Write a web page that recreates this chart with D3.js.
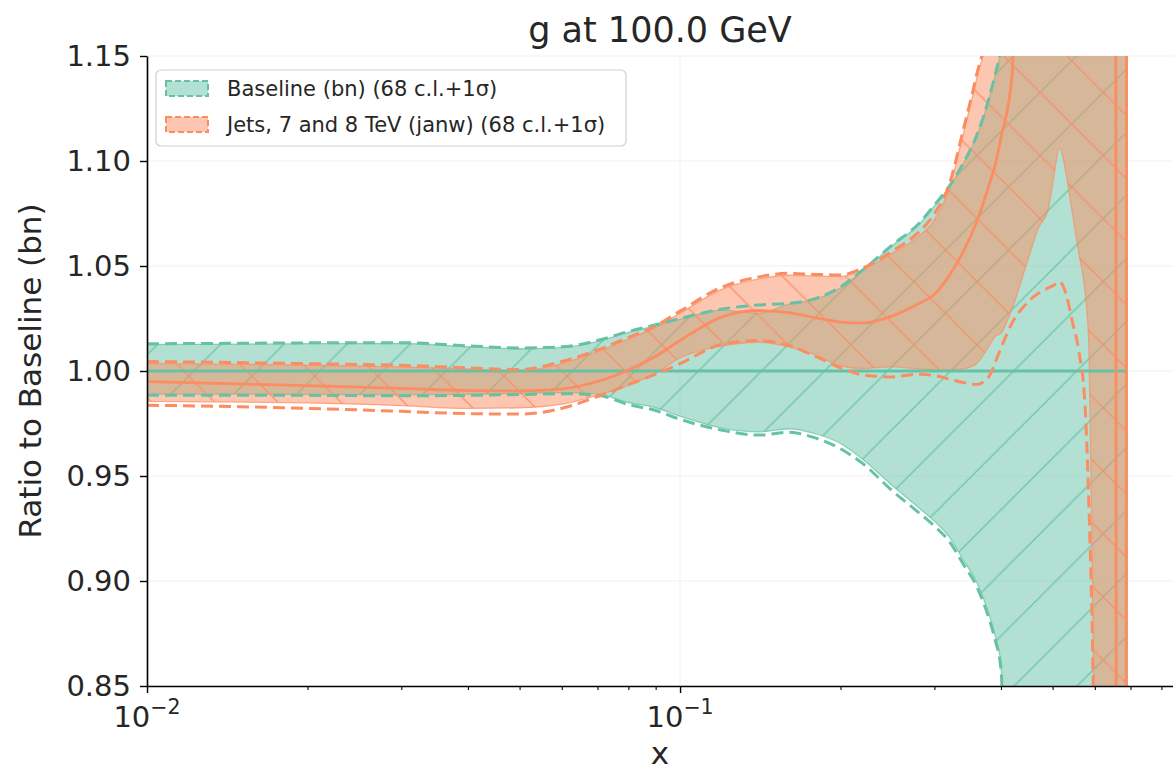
<!DOCTYPE html>
<html><head><meta charset="utf-8">
<script src="https://cdn.jsdelivr.net/npm/d3@7"></script>
<style>
body{margin:0;background:#fff}
svg{display:block;font-family:"DejaVu Sans",sans-serif}
</style>
</head><body>
<svg id="c" width="1173" height="772"></svg>
<script>
// ---------------- data ----------------
const xs = [0.01,0.015,0.02,0.03,0.04,0.05,0.06,0.07,0.08,0.09,0.1,0.12,0.14,0.16,0.18,0.2,0.22,0.25,0.28,0.3,
            0.32,0.34,0.36,0.38,0.39,0.4,0.42,0.45,0.47,0.49,0.5,0.515,0.53,0.545,0.56,0.575,0.585,0.595,0.62,0.655,0.66,0.685,0.69];

const greenCentral = xs.map(() => 1.0);
const greenUp1s = [1.0130,1.0132,1.0134,1.0135,1.0120,1.0110,1.0115,1.0145,1.0188,1.0220,1.0250,1.0295,1.0314,1.0322,1.0346,1.0400,1.0480,1.0600,1.0700,1.0790,
                   1.0880,1.0990,1.1120,1.1300,1.1410,1.1530,1.2000,1.6,1.6,1.6,1.6,1.6,1.6,1.6,1.6,1.6,1.6,1.6,1.6,1.6,1.6,1.6,1.6];
const greenUp68 = [1.0126,1.0128,1.0130,1.0131,1.0116,1.0106,1.0111,1.0141,1.0184,1.0216,1.0246,1.0290,1.0275,1.0318,1.0342,1.0396,1.0476,1.0596,1.0696,1.0786,
                   1.0876,1.0986,1.1116,1.1296,1.1406,1.1526,1.2000,1.6,1.6,1.6,1.6,1.6,1.6,1.6,1.6,1.6,1.6,1.6,1.6,1.6,1.6,1.6,1.6];
const greenLo1s = [0.9885,0.9885,0.9884,0.9882,0.9884,0.9888,0.9892,0.9885,0.9840,0.9812,0.9770,0.9718,0.9695,0.9708,0.9680,0.9630,0.9560,0.9430,0.9327,0.9262,
                   0.9188,0.9080,0.8975,0.8820,0.8720,0.8580,0.6000,0.4,0.4,0.4,0.4,0.4,0.4,0.4,0.4,0.4,0.4,0.4,0.4,0.4,0.4,0.4,0.4];
const greenLo68 = [0.9890,0.9890,0.9889,0.9887,0.9889,0.9893,0.9897,0.9890,0.9850,0.9825,0.9785,0.9728,0.9710,0.9725,0.9700,0.9655,0.9580,0.9455,0.9350,0.9285,
                   0.9210,0.9100,0.8995,0.8840,0.8740,0.8600,0.6000,0.4,0.4,0.4,0.4,0.4,0.4,0.4,0.4,0.4,0.4,0.4,0.4,0.4,0.4,0.4,0.4];

const orangeCentral = [0.9950,0.9938,0.9930,0.9917,0.9907,0.9905,0.9915,0.9950,1.0005,1.0070,1.0145,1.0258,1.0288,1.0278,1.0253,1.0233,1.0228,1.0262,1.0320,1.0365,
                       1.0455,1.0570,1.0710,1.0885,1.0980,1.1110,1.1420,1.6,1.6,1.6,1.6,1.6,1.6,1.6,1.6,1.6,1.6,1.6,1.6,1.6,0.4,0.4,1.6];
const orangeUp1s = [1.0045,1.0040,1.0035,1.0027,1.0015,1.0007,1.0045,1.0100,1.0160,1.0215,1.0285,1.0400,1.0447,1.0465,1.0460,1.0457,1.0490,1.0570,1.0660,1.0748,
                    1.0890,1.1150,1.1410,1.1700,1.6,1.6,1.6,1.6,1.6,1.6,1.6,1.6,1.6,1.6,1.6,1.6,1.6,1.6,1.6,1.6,1.6,1.6,1.6];
const orangeUp68 = [1.0036,1.0032,1.0028,1.0020,1.0010,1.0000,1.0035,1.0092,1.0152,1.0208,1.0275,1.0390,1.0437,1.0456,1.0452,1.0450,1.0482,1.0560,1.0640,1.0720,
                    1.0870,1.1130,1.1390,1.1680,1.6,1.6,1.6,1.6,1.6,1.6,1.6,1.6,1.6,1.6,1.6,1.6,1.6,1.6,1.6,1.6,1.6,1.6,1.6];
const orangeLo68 = [0.9855,0.9852,0.9848,0.9835,0.9822,0.9825,0.9842,0.9885,0.9932,0.9990,1.0062,1.0120,1.0137,1.0115,1.0075,1.0025,1.0012,1.0020,1.0010,1.0005,
                    1.0003,1.0010,1.0035,1.0120,1.0165,1.0180,1.0300,1.0535,1.0680,1.0765,1.0890,1.1060,1.0940,1.0745,1.0560,1.0380,1.0120,0.8800,0.4,0.4,0.4,0.4,0.4];
const orangeLo1s = [0.9837,0.9830,0.9822,0.9808,0.9797,0.9795,0.9822,0.9878,0.9935,0.9985,1.0035,1.0128,1.0145,1.0122,1.0068,1.0015,0.9982,0.9972,0.9985,0.9978,
                    0.9962,0.9945,0.9936,0.9975,1.0040,1.0110,1.0230,1.0330,1.0370,1.0395,1.0405,1.0425,1.0365,1.0230,1.0095,0.9840,0.9350,0.8600,0.4,0.4,0.4,0.4,0.4];

const yTicks = [0.85,0.90,0.95,1.00,1.05,1.10,1.15];
const xMajor = [0.01,0.1];
const xMajorLabels = ["−2","−1"];
const xMinor = [0.02,0.03,0.04,0.05,0.06,0.07,0.08,0.09,0.2,0.3,0.4,0.5,0.6,0.7,0.8];
const titleText = "g at 100.0 GeV";
const xLabel = "x";
const yLabel = "Ratio to Baseline (bn)";
const legendLabels = ["Baseline (bn) (68 c.l.+1σ)", "Jets, 7 and 8 TeV (janw) (68 c.l.+1σ)"];

// ---------------- layout ----------------
const GREEN = "#66c2a5", ORANGE = "#fc8d62";
const L = 147, R = 1173, T = 56, B = 686;
const svg = d3.select("#c");
const x = d3.scaleLog().domain([0.01, 0.841]).range([L, R]);
const y = d3.scaleLinear().domain([0.85, 1.15]).range([B, T]);

const defs = svg.append("defs");
defs.append("clipPath").attr("id", "clip").append("rect")
  .attr("x", L).attr("y", T).attr("width", R - L).attr("height", B - T);

const S = 63.06;
const pg = defs.append("pattern").attr("id", "hatchG").attr("patternUnits", "userSpaceOnUse")
  .attr("width", S).attr("height", S).attr("x", 60.5).attr("y", 0);
pg.append("path").attr("d", `M0,${S} L${S},0 M-3,3 L3,-3 M${S-3},${S+3} L${S+3},${S-3}`)
  .attr("stroke", GREEN).attr("stroke-width", 1.3).attr("stroke-opacity", 0.9).attr("fill", "none");
const po = defs.append("pattern").attr("id", "hatchO").attr("patternUnits", "userSpaceOnUse")
  .attr("width", S).attr("height", S).attr("x", 1.8).attr("y", 0);
po.append("path").attr("d", `M0,0 L${S},${S} M${S-3},-3 L${S+3},3 M-3,${S-3} L3,${S+3}`)
  .attr("stroke", ORANGE).attr("stroke-width", 1.3).attr("stroke-opacity", 0.9).attr("fill", "none");

// grid
const grid = svg.append("g");
yTicks.forEach(v => grid.append("line").attr("x1", L).attr("x2", R).attr("y1", y(v)).attr("y2", y(v))
  .attr("stroke", "#f1f1f1").attr("stroke-width", 1));
xMajor.forEach(v => grid.append("line").attr("x1", x(v)).attr("x2", x(v)).attr("y1", T).attr("y2", B)
  .attr("stroke", "#f1f1f1").attr("stroke-width", 1));

const plot = svg.append("g").attr("clip-path", "url(#clip)");

function band(up, lo, color, hatch) {
  const data = xs.map((d, i) => ({x: d, u: up[i], l: lo[i]}));
  const area = d3.area().x(d => x(d.x)).y0(d => y(d.l)).y1(d => y(d.u)).curve(d3.curveMonotoneX);
  plot.append("path").attr("d", area(data)).attr("fill", color).attr("fill-opacity", 0.5)
    .attr("stroke", color).attr("stroke-opacity", 0.7).attr("stroke-width", 1.3);
  plot.append("path").attr("d", area(data)).attr("fill", `url(#${hatch})`);
}
function line(vals, color, dashed) {
  const data = xs.map((d, i) => ({x: d, v: vals[i]}));
  const ln = d3.line().x(d => x(d.x)).y(d => y(d.v)).curve(d3.curveMonotoneX);
  const p = plot.append("path").attr("d", ln(data)).attr("fill", "none").attr("stroke", color)
    .attr("stroke-width", dashed ? 3 : 2.8);
  if (dashed) p.attr("stroke-dasharray", "12,6");
}

band(greenUp68, greenLo68, GREEN, "hatchG");
band(orangeUp68, orangeLo68, ORANGE, "hatchO");
line(greenCentral, GREEN, false);
line(greenUp1s, GREEN, true);
line(greenLo1s, GREEN, true);
line(orangeCentral, ORANGE, false);
line(orangeUp1s, ORANGE, true);
line(orangeLo1s, ORANGE, true);

// axes
const yAxis = svg.append("g").attr("transform", `translate(${L},0)`)
  .call(d3.axisLeft(y).tickValues(yTicks).tickFormat(d3.format(".2f")).tickSize(7).tickSizeOuter(0).tickPadding(9));
yAxis.select(".domain").attr("stroke", "#000").attr("stroke-width", 1.6);
yAxis.selectAll(".tick line").attr("stroke", "#000").attr("stroke-width", 1.4);
yAxis.selectAll(".tick text").attr("font-size", 29).attr("fill", "#262626")
  .attr("font-family", "DejaVu Sans");

const xAxis = svg.append("g").attr("transform", `translate(0,${B})`)
  .call(d3.axisBottom(x).tickValues(xMajor).tickFormat(() => "").tickSize(7).tickSizeOuter(0));
xAxis.select(".domain").attr("stroke", "#000").attr("stroke-width", 1.6);
xAxis.selectAll(".tick line").attr("stroke", "#000").attr("stroke-width", 1.4);
const xMinAxis = svg.append("g").attr("transform", `translate(0,${B})`)
  .call(d3.axisBottom(x).tickValues(xMinor).tickFormat(() => "").tickSize(4).tickSizeOuter(0));
xMinAxis.select(".domain").remove();
xMinAxis.selectAll(".tick line").attr("stroke", "#000").attr("stroke-width", 1.1);

xMajor.forEach((v, i) => {
  const t = svg.append("text").attr("x", x(v)).attr("y", 727).attr("text-anchor", "middle")
    .attr("font-size", 29).attr("fill", "#262626");
  t.append("tspan").text("10");
  t.append("tspan").attr("font-size", 20.5).attr("dy", -13).text(xMajorLabels[i]);
});

// labels
svg.append("text").attr("x", (L + R) / 2).attr("y", 42).attr("text-anchor", "middle")
  .attr("font-size", 35).attr("fill", "#262626").text(titleText);
svg.append("text").attr("x", (L + R) / 2).attr("y", 764).attr("text-anchor", "middle")
  .attr("font-size", 31).attr("fill", "#262626").text(xLabel);
svg.append("text").attr("transform", `translate(41,${(T + B) / 2}) rotate(-90)`).attr("text-anchor", "middle")
  .attr("font-size", 31).attr("fill", "#262626").text(yLabel);

// legend
const lg = svg.append("g");
lg.append("rect").attr("x", 156).attr("y", 70).attr("width", 470).attr("height", 76).attr("rx", 5)
  .attr("fill", "#fff").attr("fill-opacity", 0.8).attr("stroke", "#d0d0d0").attr("stroke-width", 1.2);
[GREEN, ORANGE].forEach((c, i) => {
  const yy = 81 + i * 36;
  lg.append("rect").attr("x", 166).attr("y", yy).attr("width", 42).attr("height", 15)
    .attr("fill", c).attr("fill-opacity", 0.5).attr("stroke", c).attr("stroke-width", 2)
    .attr("stroke-dasharray", "6,3");
  lg.append("text").attr("x", 227).attr("y", yy + 15).attr("font-size", 21).attr("fill", "#262626")
    .text(legendLabels[i]);
});
</script>
</body></html>
